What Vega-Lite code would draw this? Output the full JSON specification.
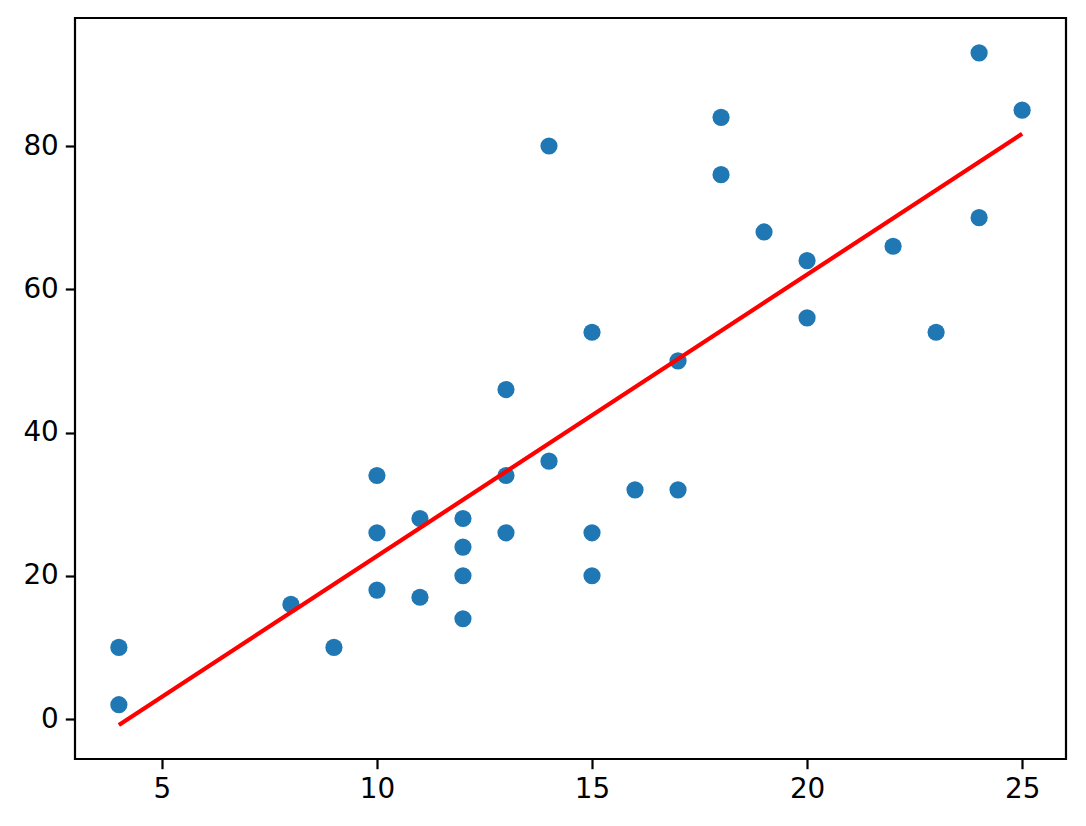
{
  "$schema": "https://vega.github.io/schema/vega-lite/v6.json",
  "width": 991,
  "height": 741,
  "autosize": {"type": "none"},
  "padding": {"left": 75, "top": 18, "right": 20, "bottom": 67},
  "background": "white",
  "config": {
    "view": {"stroke": "black", "strokeWidth": 2.2},
    "axis": {
      "grid": false,
      "domain": false,
      "ticks": true,
      "tickSize": 9.7,
      "tickWidth": 2.2,
      "tickColor": "black",
      "labelFont": "DejaVu Sans",
      "labelFontSize": 27.8,
      "labelColor": "black",
      "labelPadding": 7,
      "title": null
    }
  },
  "datasets": {
    "pts": [
      {"speed": 4, "dist": 2}, {"speed": 4, "dist": 10}, {"speed": 8, "dist": 16}, {"speed": 9, "dist": 10},
      {"speed": 10, "dist": 18}, {"speed": 10, "dist": 26}, {"speed": 10, "dist": 34}, {"speed": 11, "dist": 17},
      {"speed": 11, "dist": 28}, {"speed": 12, "dist": 14}, {"speed": 12, "dist": 20}, {"speed": 12, "dist": 24},
      {"speed": 12, "dist": 28}, {"speed": 13, "dist": 26}, {"speed": 13, "dist": 34}, {"speed": 13, "dist": 46},
      {"speed": 14, "dist": 36}, {"speed": 14, "dist": 80}, {"speed": 15, "dist": 20}, {"speed": 15, "dist": 26},
      {"speed": 15, "dist": 54}, {"speed": 16, "dist": 32}, {"speed": 17, "dist": 32}, {"speed": 17, "dist": 50},
      {"speed": 18, "dist": 76}, {"speed": 18, "dist": 84}, {"speed": 19, "dist": 68}, {"speed": 20, "dist": 56},
      {"speed": 20, "dist": 64}, {"speed": 22, "dist": 66}, {"speed": 23, "dist": 54}, {"speed": 24, "dist": 70},
      {"speed": 24, "dist": 93}, {"speed": 25, "dist": 85}
    ],
    "fit": [
      {"speed": 4, "dist": -0.84},
      {"speed": 25, "dist": 81.7}
    ]
  },
  "layer": [
    {
      "data": {"name": "pts"},
      "mark": {"type": "circle", "size": 295, "color": "#1f77b4", "opacity": 1},
      "encoding": {
        "x": {"field": "speed", "type": "quantitative", "scale": {"domain": [2.98, 26.02], "nice": false, "zero": false},
              "axis": {"values": [5, 10, 15, 20, 25]}},
        "y": {"field": "dist", "type": "quantitative", "scale": {"domain": [-5.58, 97.87], "nice": false, "zero": false},
              "axis": {"values": [0, 20, 40, 60, 80]}}
      }
    },
    {
      "data": {"name": "fit"},
      "mark": {"type": "line", "color": "red", "strokeWidth": 4.2},
      "encoding": {
        "x": {"field": "speed", "type": "quantitative"},
        "y": {"field": "dist", "type": "quantitative"}
      }
    }
  ]
}
